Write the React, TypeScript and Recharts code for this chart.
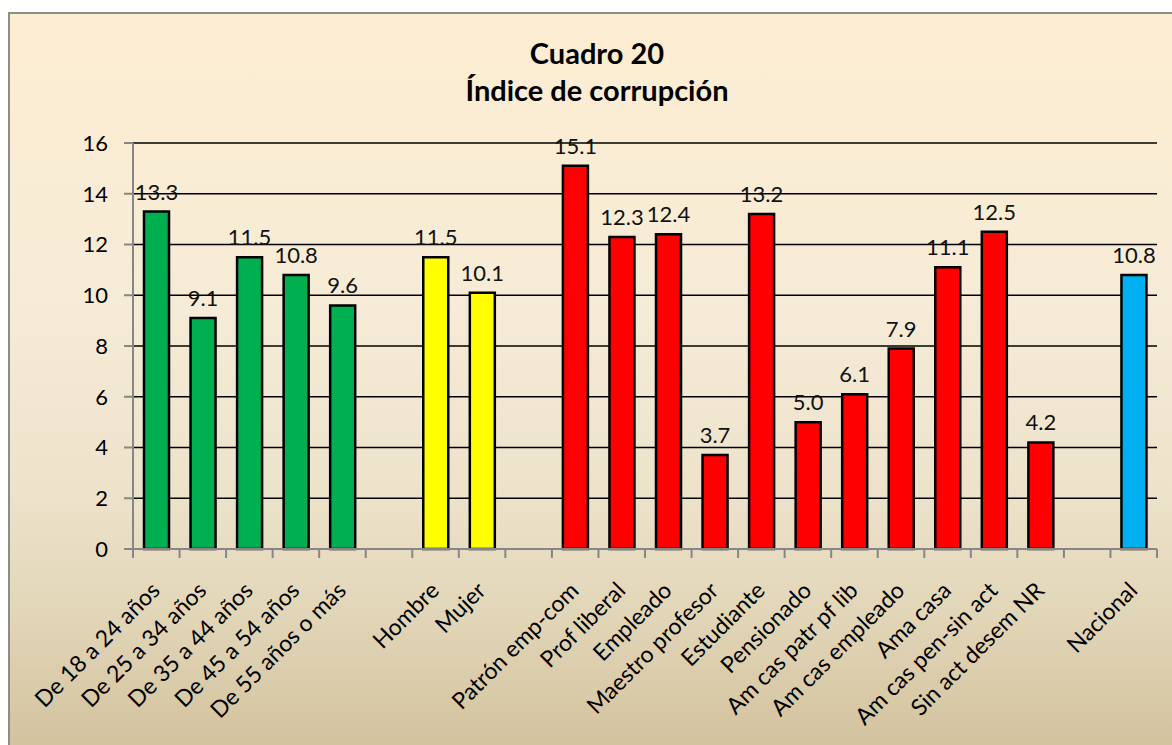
import { BarChart, Bar, XAxis, YAxis, CartesianGrid, Cell, LabelList } from "recharts";

// categories by group (blank slots separate the groups)
const ageCats = ["De 18 a 24 años", "De 25 a 34 años", "De 35 a 44 años", "De 45 a 54 años", "De 55 años o más"];
const ageVals = [13.3, 9.1, 11.5, 10.8, 9.6];
const sexCats = ["Hombre", "Mujer"];
const sexVals = [11.5, 10.1];
const occCats = [
  "Patrón emp-com", "Prof liberal", "Empleado", "Maestro profesor", "Estudiante", "Pensionado",
  "Am cas patr pf lib", "Am cas empleado", "Ama casa", "Am cas pen-sin act", "Sin act desem NR",
];
const occVals = [15.1, 12.3, 12.4, 3.7, 13.2, 5.0, 6.1, 7.9, 11.1, 12.5, 4.2];
const natCats = ["Nacional"];
const natVals = [10.8];
const yTicks = [0, 2, 4, 6, 8, 10, 12, 14, 16];

const GREEN = "#00B050";
const YELLOW = "#FFFF00";
const RED = "#FF0000";
const BLUE = "#00B0F0";

const groups = [
  { cats: ageCats, vals: ageVals, color: GREEN },
  { cats: sexCats, vals: sexVals, color: YELLOW },
  { cats: occCats, vals: occVals, color: RED },
  { cats: natCats, vals: natVals, color: BLUE },
];

// flatten, with an empty slot between groups
const data: any[] = [];
groups.forEach((g, gi) => {
  if (gi > 0) data.push({ name: "", value: null, color: "none" });
  g.cats.forEach((c, i) => data.push({ name: c, value: g.vals[i], color: g.color }));
});

const FONT = "Lato, 'Open Sans', sans-serif";
const CHART_W = 1162;
const CHART_H = 731;
const MARGIN = { top: 129, right: 15, bottom: 0, left: 63 };
const YAXIS_W = 60;
const PLOT_W = CHART_W - MARGIN.left - YAXIS_W - MARGIN.right;
const HALF_SLOT = PLOT_W / data.length / 2;

// x tick: tick marks sit on the category boundaries, labels rotated 45°
function XTick(props: any) {
  const { x, y, payload, index } = props;
  const last = index === data.length - 1;
  return (
    <g transform={`translate(${x},${y})`}>
      <line x1={-HALF_SLOT} x2={-HALF_SLOT} y1={0} y2={9} stroke="#868686" strokeWidth={2} />
      {last && <line x1={HALF_SLOT} x2={HALF_SLOT} y1={0} y2={9} stroke="#868686" strokeWidth={2} />}
      <text
        x={5}
        y={43}
        textAnchor="end"
        transform="rotate(-45, 5, 43)"
        fontSize={23}
        fontFamily={FONT}
        fill="#000"
      >
        {payload.value}
      </text>
    </g>
  );
}

export default function App() {
  return (
    <div
      style={{
        position: "absolute",
        left: 8,
        top: 12,
        width: 1164,
        height: 733,
        boxSizing: "border-box",
        borderLeft: "2px solid #8c8c8c",
        borderTop: "2px solid #8c8c8c",
        background: "linear-gradient(180deg, #FDEED2 0%, #F6EBD6 40%, #EDE3CB 65%, #E2D6B8 82%, #D3C29E 100%)",
        fontFamily: FONT,
      }}
    >
      <div
        style={{
          position: "absolute",
          left: 0,
          width: 1174,
          top: 20,
          textAlign: "center",
          fontWeight: "bold",
          fontSize: 29,
          lineHeight: "37px",
          color: "#000",
        }}
      >
        <div>Cuadro 20</div>
        <div>Índice de corrupción</div>
      </div>
      <BarChart width={CHART_W} height={CHART_H} data={data} margin={MARGIN} barSize={25}>
        <CartesianGrid yAxisId="left" vertical={false} stroke="#000" strokeWidth={1.5} />
        <XAxis
          dataKey="name"
          interval={0}
          height={196}
          tickSize={0}
          tickMargin={0}
          tickLine={false}
          axisLine={{ stroke: "#868686", strokeWidth: 2 }}
          tick={<XTick />}
        />
        <YAxis
          yAxisId="left"
          domain={[0, 16]}
          ticks={yTicks}
          width={YAXIS_W}
          tickSize={9}
          tickMargin={16}
          axisLine={{ stroke: "#868686", strokeWidth: 2 }}
          tickLine={{ stroke: "#868686", strokeWidth: 2 }}
          tick={{ fontSize: 22, fill: "#000", fontFamily: FONT }}
        />
        <YAxis
          yAxisId="right"
          orientation="right"
          domain={[0, 16]}
          width={0}
          tick={false}
          tickLine={false}
          axisLine={{ stroke: "#000", strokeWidth: 2 }}
        />
        <Bar yAxisId="left" dataKey="value" stroke="#000" strokeWidth={2.5} isAnimationActive={false}>
          {data.map((d, i) => (
            <Cell key={i} fill={d.color} />
          ))}
          <LabelList
            dataKey="value"
            position="top"
            offset={12}
            fill="#111"
            fontSize={22}
            fontFamily={FONT}
            formatter={(v: any) => (v == null ? "" : Number(v).toFixed(1))}
          />
        </Bar>
      </BarChart>
    </div>
  );
}
